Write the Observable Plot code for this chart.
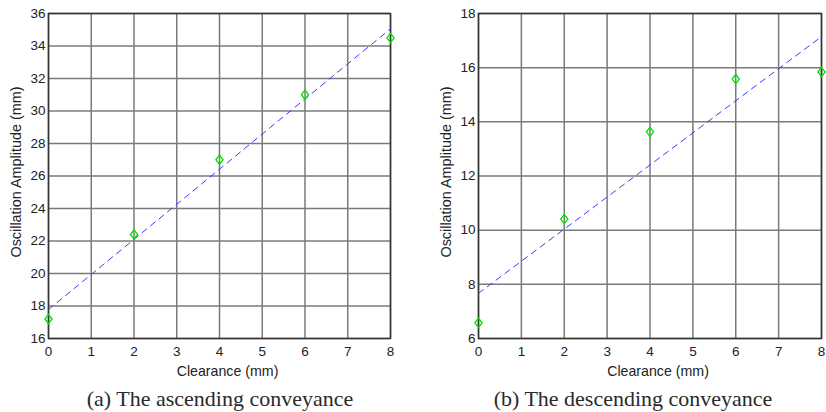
<!DOCTYPE html>
<html>
<head>
<meta charset="utf-8">
<script src="https://cdn.jsdelivr.net/npm/d3@7"></script>
<script src="https://cdn.jsdelivr.net/npm/@observablehq/plot@0.6"></script>
<style>
  html, body { margin: 0; padding: 0; background: #fff; }
  #wrap { display: flex; width: 826px; height: 412px; position: relative; }
  .panel { width: 413px; position: relative; }
  .cap { font-family: "Liberation Serif", "Times New Roman", serif; font-size: 22px; color: #2a2a2a;
         position: absolute; top: 388px; white-space: nowrap; transform: translateX(-50%); line-height: 1; }
</style>
</head>
<body>
<div id="wrap">
  <div class="panel" id="pa"></div>
  <div class="panel" id="pb"></div>
  <div class="cap" style="left:220px">(a) The ascending conveyance</div>
  <div class="cap" style="left:633px">(b) The descending conveyance</div>
</div>
<script>
const clearance = [0, 2, 4, 6, 8];
const ampAscending = [17.2, 22.4, 27.0, 31.0, 34.5];
const ampDescending = [6.58, 10.41, 13.63, 15.58, 15.84];
const xTicks = [0, 1, 2, 3, 4, 5, 6, 7, 8];
const yTicksA = [16, 18, 20, 22, 24, 26, 28, 30, 32, 34, 36];
const yTicksB = [6, 8, 10, 12, 14, 16, 18];
const xLabel = "Clearance (mm)";
const yLabel = "Oscillation Amplitude (mm)";

// MATLAB-like diamond marker (slightly taller than wide)
const matlabDiamond = {
  draw(context, size) {
    const h = Math.sqrt(size) * 0.62, w = h * 0.78;
    context.moveTo(0, -h);
    context.lineTo(w, 0);
    context.lineTo(0, h);
    context.lineTo(-w, 0);
    context.closePath();
  }
};

function panel(values, yDomain, yTicks, margins) {
  const data = clearance.map((c, i) => ({x: c, y: values[i]}));
  return Plot.plot({
    width: 413,
    height: 380,
    marginTop: margins.top,
    marginBottom: 42,
    marginLeft: margins.left,
    marginRight: margins.right,
    style: {fontFamily: "Arial, 'Liberation Sans', sans-serif", fontSize: "13.5px", color: "#222", background: "#fff"},
    x: {domain: [0, 8], ticks: xTicks, tickSize: 0, tickPadding: 8, label: null},
    y: {domain: yDomain, ticks: yTicks, tickSize: 0, tickPadding: 3, label: null},
    marks: [
      Plot.gridX(xTicks, {stroke: "#7a7a7a", strokeOpacity: 1, strokeWidth: 1.5}),
      Plot.gridY(yTicks, {stroke: "#7a7a7a", strokeOpacity: 1, strokeWidth: 1.5}),
      Plot.frame({stroke: "#333", strokeWidth: 1.5}),
      Plot.axisX({ticks: xTicks, tickSize: 0, tickPadding: 8, label: null, fontSize: 13.5}),
      Plot.axisY({ticks: yTicks, tickSize: 0, tickPadding: 3, label: null, fontSize: 13.5}),
      Plot.text([xLabel], {frameAnchor: "bottom", dy: 37, dx: 8, fontSize: 14.2}),
      Plot.text([yLabel], {frameAnchor: "left", textAnchor: "middle", rotate: -90, dx: -32, dy: -4, fontSize: 14.4}),
      Plot.linearRegressionY(data, {x: "x", y: "y", ci: 0, stroke: "#3a3aff", strokeWidth: 1, strokeDasharray: "6,5"}),
      Plot.dot(data, {x: "x", y: "y", symbol: matlabDiamond, r: 4.2, stroke: "#00e000", strokeWidth: 1.3, fill: "none"})
    ]
  });
}

document.getElementById("pa").append(panel(ampAscending, [16, 36], yTicksA, {top: 13, left: 48, right: 23}));
document.getElementById("pb").append(panel(ampDescending, [6, 18], yTicksB, {top: 13, left: 65, right: 5}));
</script>
</body>
</html>
